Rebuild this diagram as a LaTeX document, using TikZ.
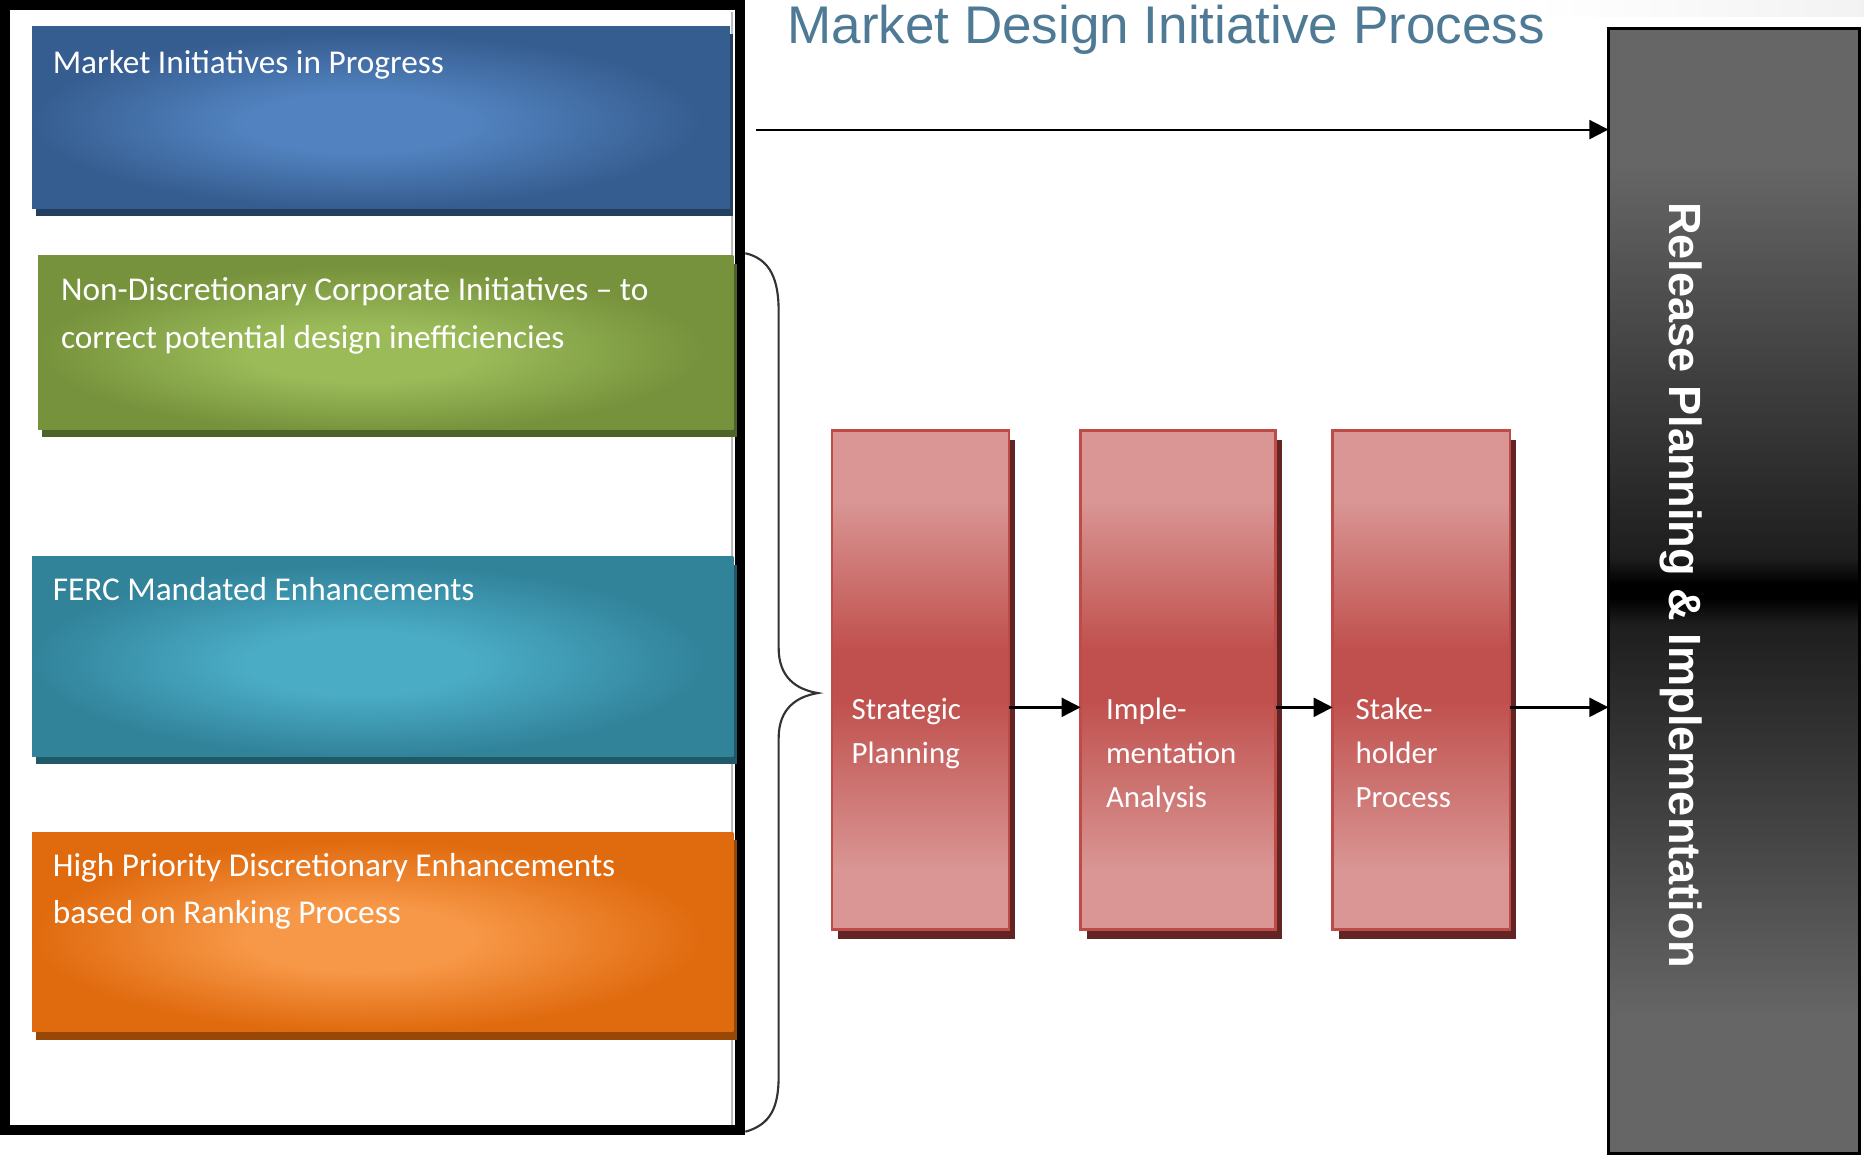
\documentclass[tikz,border=0pt]{standalone}
\usepackage{fontspec}
\setmainfont{Carlito}
\newfontfamily\titlefont{Liberation Sans}
\newfontfamily\relfont{Liberation Sans}
\usetikzlibrary{arrows.meta,fit,shadows,calc}

\definecolor{bluein}{HTML}{5283C0}
\definecolor{blueout}{HTML}{365D90}
\definecolor{blueshadow}{HTML}{243F60}
\definecolor{greenin}{HTML}{9BBB59}
\definecolor{greenout}{HTML}{76923C}
\definecolor{greenshadow}{HTML}{4F6228}
\definecolor{tealin}{HTML}{4BACC6}
\definecolor{tealout}{HTML}{31839A}
\definecolor{tealshadow}{HTML}{215968}
\definecolor{orangein}{HTML}{F79848}
\definecolor{orangeout}{HTML}{E06A0E}
\definecolor{orangeshadow}{HTML}{974806}
\definecolor{redlt}{HTML}{D99694}
\definecolor{reddk}{HTML}{C0504D}
\definecolor{redline}{HTML}{BE4B48}
\definecolor{redshadow}{HTML}{632523}
\definecolor{relgrey}{HTML}{666666}
\definecolor{relmid}{HTML}{1E1E1E}
\definecolor{titleblue}{HTML}{4F7A95}

% TikZ maps the path's bounding box onto the central 50bp x 50bp of a shading
\pgfdeclareradialshading{blueglow}{\pgfpoint{-2bp}{-2bp}}{color(0bp)=(bluein); color(8bp)=(bluein); color(24bp)=(blueout); color(50bp)=(blueout)}
\pgfdeclareradialshading{greenglow}{\pgfpoint{-2bp}{-4bp}}{color(0bp)=(greenin); color(8bp)=(greenin); color(24bp)=(greenout); color(50bp)=(greenout)}
\pgfdeclareradialshading{tealglow}{\pgfpoint{-2bp}{-2bp}}{color(0bp)=(tealin); color(8bp)=(tealin); color(24bp)=(tealout); color(50bp)=(tealout)}
\pgfdeclareradialshading{orangeglow}{\pgfpoint{-2bp}{-2bp}}{color(0bp)=(orangein); color(8bp)=(orangein); color(24bp)=(orangeout); color(50bp)=(orangeout)}
\pgfdeclareverticalshading{redshade}{100bp}{color(0bp)=(redlt); color(31bp)=(redlt); color(48bp)=(reddk); color(53bp)=(reddk); color(68bp)=(redlt); color(100bp)=(redlt)}
\pgfdeclareverticalshading{relshade}{100bp}{color(0bp)=(relgrey); color(31bp)=(relgrey); color(48.5bp)=(relmid); color(49.7bp)=(black); color(50.3bp)=(black); color(51.5bp)=(relmid); color(69bp)=(relgrey); color(100bp)=(relgrey)}

\begin{document}
\begin{tikzpicture}[x=0.5pt,y=-0.5pt,
  box/.style={rectangle, inner sep=0pt, outer sep=0pt},
  boxtext/.style={text=white, font=\fontsize{14}{20}\selectfont, align=left, inner sep=0pt, anchor=base west},
  redbox/.style={box, shading=redshade, draw=redline, line width=1pt,
     drop shadow={shadow xshift=2.5pt, shadow yshift=-4pt, fill=redshadow, opacity=1}},
  redtext/.style={text=white, font=\fontsize{13}{18.5}\selectfont, align=left, inner sep=0pt, anchor=base west},
  flow/.style={line width=1pt, -{Triangle[length=8pt,width=8pt]}},
  flowthin/.style={line width=0.9pt, -{Triangle[length=8pt,width=8pt]}},
]
\useasboundingbox (0,0) rectangle (1568,975);

% faint band top right
\fill[left color=white, right color=gray!10] (1290,0) rectangle (1568,14);

% outer frame
\draw[gray!55, line width=0.8pt] (616,10) -- (616,946);
\node[box, draw=black, line width=4pt, fit={(4,4) (622.5,950.5)}] (frame) {};

% left boxes (multi-line text: anchor is the baseline of the last line)
\node[box, fit={(27,22) (614,175)}, shading=blueglow,
  drop shadow={shadow xshift=1.5pt, shadow yshift=-3.5pt, fill=blueshadow, opacity=1}] (mip) {};
\node[boxtext] (miptxt) at (44,62) {Market Initiatives in Progress};

\node[box, fit={(32,215) (617,361)}, shading=greenglow,
  drop shadow={shadow xshift=1.5pt, shadow yshift=-3.5pt, fill=greenshadow, opacity=1}] (ndc) {};
\node[boxtext] (ndctxt) at (51,293) {Non-Discretionary Corporate Initiatives – to\\correct potential design inefficiencies};

\node[box, fit={(27,468) (617,636)}, shading=tealglow,
  drop shadow={shadow xshift=1.5pt, shadow yshift=-3.5pt, fill=tealshadow, opacity=1}] (ferc) {};
\node[boxtext] (ferctxt) at (44,505) {FERC Mandated Enhancements};

\node[box, fit={(27,700) (617,868)}, shading=orangeglow,
  drop shadow={shadow xshift=1.5pt, shadow yshift=-3.5pt, fill=orangeshadow, opacity=1}] (hpd) {};
\node[boxtext] (hpdtxt) at (44,777) {High Priority Discretionary Enhancements\\based on Ranking Process};

% brace
\draw[line width=0.9pt, black!80] (627,213) .. controls (648,218) and (655,235) .. (655,262)
  -- (655,545) .. controls (655,570) and (670,580) .. (688,583)
  .. controls (670,586) and (655,596) .. (655,621)
  -- (655,905) .. controls (655,932) and (648,946) .. (627,952);

% title
\node[anchor=base west, inner sep=0pt, text=titleblue, font=\titlefont\fontsize{22.3}{26}\selectfont] (title) at (662,37) {Market Design Initiative Process};

% release box
\node[box, fit={(1353,24) (1564,970)}, shading=relshade, draw=black, line width=1.2pt] (rel) {};
\node[rotate=-90, anchor=base, inner sep=0pt, text=white, font=\relfont\bfseries\fontsize{19}{22}\selectfont] (reltxt) at (1404,492) {Release Planning \& Implementation};

% process boxes
\node[redbox, fit={(700,362) (849,782)}] (sp) {};
\node[redtext] (sptxt) at (716,642) {Strategic\\Planning};
\node[redbox, fit={(909,362) (1073,782)}] (ia) {};
\node[redtext] (iatxt) at (930,679) {Imple-\\mentation\\Analysis};
\node[redbox, fit={(1121,362) (1270,782)}] (sh) {};
\node[redtext] (shtxt) at (1140,679) {Stake-\\holder\\Process};

% arrows
\coordinate (tstart) at (636,109);
\draw[flowthin] (tstart) -- (tstart -| rel.west);
\coordinate (ay) at (0,595);
\draw[flow] (sp.east |- ay) -- (ia.west |- ay);
\draw[flow] (ia.east |- ay) -- (sh.west |- ay);
\draw[flow] (sh.east |- ay) -- (rel.west |- ay);
\end{tikzpicture}
\end{document}
